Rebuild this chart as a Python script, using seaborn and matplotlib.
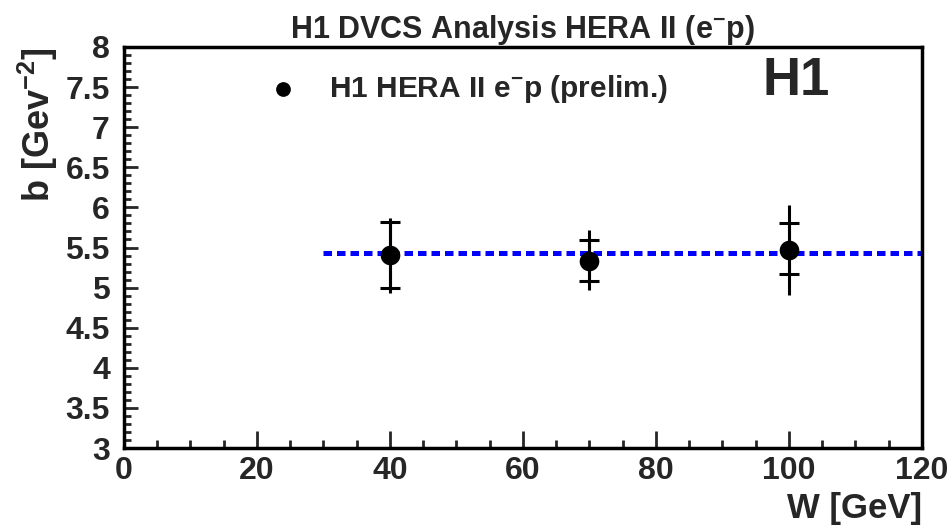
import numpy as np
import matplotlib
matplotlib.use("Agg")
import matplotlib.pyplot as plt
from matplotlib.ticker import MultipleLocator
import seaborn as sns

# data
w_vals = [40, 70, 100]
b_vals = [5.41, 5.33, 5.47]
stat_lo = [0.41, 0.25, 0.30]
stat_hi = [0.41, 0.26, 0.34]
tot_lo = [0.48, 0.36, 0.56]
tot_hi = [0.46, 0.39, 0.56]
fit_w = [30, 120]
fit_b = [5.43, 5.43]

sns.set_theme(style="ticks")
plt.rcParams['font.family'] = ['Liberation Sans', 'DejaVu Sans']
plt.rcParams['font.weight'] = 'bold'
plt.rcParams['mathtext.default'] = 'regular'

fig = plt.figure(figsize=(9.52, 5.28), dpi=100)
ax = fig.add_axes([0.130, 0.1515, 0.8385, 0.7595])

sns.lineplot(x=fit_w, y=fit_b, ax=ax, color='#0000ff', linewidth=3.6,
             linestyle=(0, (1.7, 1.0)), zorder=2)

# total errors (no cap) + statistical (with cap)
ax.errorbar(w_vals, b_vals, yerr=[tot_lo, tot_hi], fmt='none',
            ecolor='black', elinewidth=2.2, capsize=0, zorder=3)
ax.errorbar(w_vals, b_vals, yerr=[stat_lo, stat_hi], fmt='none',
            ecolor='black', elinewidth=2.2, capsize=7.5, capthick=2.2, zorder=3)
sns.scatterplot(x=w_vals, y=b_vals, ax=ax, color='black', s=200,
                edgecolor='black', linewidth=0, zorder=4,
                label='H1 HERA II e$^{-}$p (prelim.)')

ax.set_xlim(0, 120)
ax.set_ylim(3, 8)
ax.xaxis.set_major_locator(MultipleLocator(20))
ax.xaxis.set_minor_locator(MultipleLocator(5))
ax.yaxis.set_major_locator(MultipleLocator(0.5))
ax.yaxis.set_minor_locator(MultipleLocator(0.1))
ax.yaxis.set_major_formatter(matplotlib.ticker.FuncFormatter(lambda v, p: f'{v:g}'))

ax.tick_params(which='both', direction='in', top=False, right=False,
               labelsize=23, width=2)
ax.tick_params(axis='x', which='major', length=12, pad=6)
ax.tick_params(axis='x', which='minor', length=6)
ax.tick_params(axis='y', which='major', length=10, pad=10)
ax.tick_params(axis='y', which='minor', length=5)
for s in ax.spines.values():
    s.set_linewidth(2.5)
    s.set_color('black')

ax.set_xlabel('W [GeV]', fontsize=25, fontweight='bold', loc='right')
ax.set_ylabel('b [Gev$^{-2}$]', fontsize=26, fontweight='bold', loc='top')
ax.set_title('H1 DVCS Analysis HERA II (e$^{-}$p)', fontsize=22,
             fontweight='bold', pad=6)

ax.text(0.842, 0.88, 'H1', transform=ax.transAxes, fontsize=38,
        fontweight='bold', ha='center', va='baseline')

leg = ax.legend(loc='center left', bbox_to_anchor=(0.128, 0.895),
                frameon=False, fontsize=21.5, handletextpad=0.55,
                markerscale=0.75)

plt.savefig('out.png', dpi=100)
